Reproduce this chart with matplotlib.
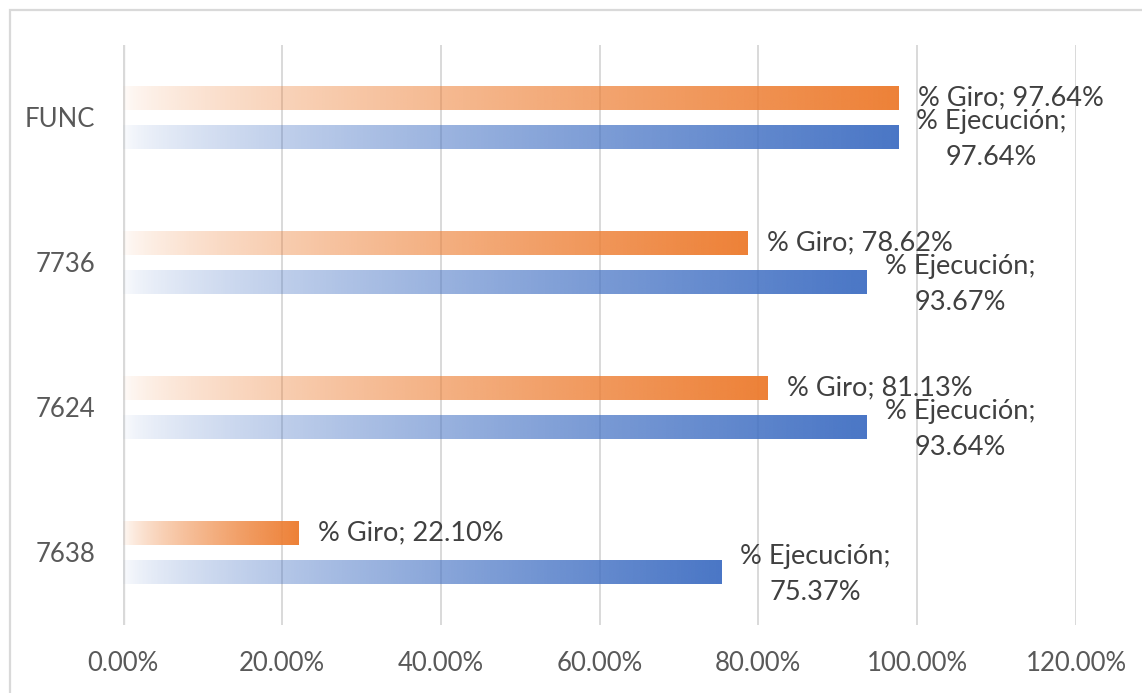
import numpy as np
import matplotlib
matplotlib.use('Agg')
import matplotlib.pyplot as plt
from matplotlib.colors import to_rgb
from matplotlib.patches import Rectangle

categories = ['FUNC', '7736', '7624', '7638']
giro = [97.64, 78.62, 81.13, 22.10]
ejecucion = [97.64, 93.67, 93.64, 75.37]
xticks = [0, 20, 40, 60, 80, 100, 120]

orange = '#ED7D31'
blue = '#4472C4'
fonts = ['Lato', 'DejaVu Sans']

fig = plt.figure(figsize=(11.42, 6.93), dpi=100)
ax = fig.add_axes([123 / 1142, 1 - 625 / 693, (1076 - 123) / 1142, 580 / 693])

# outer chart border (only top and left visible in the original)
fig.patches.append(Rectangle((10 / 1142, -0.1), 1.2, 1 - 10 / 693 + 0.1,
                             transform=fig.transFigure, fill=False,
                             edgecolor='#d9d9d9', linewidth=1.6))

y = np.arange(len(categories))
h = 0.16
off = 0.135


def gradbars(vals, ypos, color):
    bars = ax.barh(ypos, vals, h, color='none', edgecolor='none')
    rgb = to_rgb(color)
    for b in bars:
        x0, y0 = b.get_x(), b.get_y()
        w, hh = b.get_width(), b.get_height()
        n = 256
        img = np.zeros((1, n, 4))
        img[..., 0], img[..., 1], img[..., 2] = rgb
        img[0, :, 3] = 0.03 + 0.94 * np.linspace(0, 1, n) ** 0.7
        ax.imshow(img, extent=[x0, x0 + w, y0 + hh, y0], aspect='auto',
                  zorder=2, interpolation='bilinear')
    return bars


gradbars(giro, y - off, orange)
gradbars(ejecucion, y + off, blue)

for i in range(len(categories)):
    ax.annotate('%% Giro; %.2f%%' % giro[i], (giro[i], y[i] - off),
                xytext=(14, 0), textcoords='offset points', ha='left', va='center',
                fontsize=19.5, color='#404040', family=fonts)
    ax.annotate('%% Ejecución;\n%.2f%%' % ejecucion[i], (ejecucion[i], y[i] + off),
                xytext=(13, -1.5), textcoords='offset points', ha='left', va='center',
                multialignment='center', linespacing=1.55,
                fontsize=19.5, color='#404040', family=fonts)

ax.set_xlim(0, 120)
ax.set_ylim(len(categories) - 0.5, -0.5)
ax.set_xticks(xticks)
ax.set_xticklabels(['%.2f%%' % v for v in xticks])
ax.set_yticks(y)
ax.set_yticklabels(categories)
for lab in ax.get_xticklabels() + ax.get_yticklabels():
    lab.set_family(fonts)
    lab.set_fontsize(18.5)
    lab.set_color('#595959')
ax.tick_params(axis='both', length=0)
ax.tick_params(axis='x', pad=19)
ax.tick_params(axis='y', pad=20)

for s in ax.spines.values():
    s.set_visible(False)
ax.set_axisbelow(True)
ax.grid(axis='x', color='#d0d0d0', linewidth=1.1)
ax.axvline(0, color='#d9d9d9', linewidth=2.4, zorder=1)

fig.savefig('out.png', dpi=100)
